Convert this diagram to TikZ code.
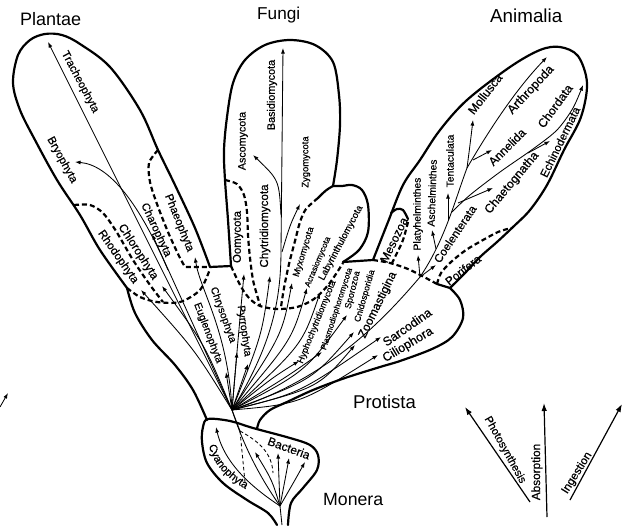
\documentclass[tikz,border=0pt]{standalone}
\usepackage{fontspec}
\setmainfont{Liberation Sans}
\newfontfamily\medfont{Liberation Sans}[FakeBold=0.5]
\usetikzlibrary{arrows.meta,decorations.text}
\newcommand\plab[5]{\node[inner sep=0pt,rotate=#3,font=\medfont\fontsize{#4}{#4}\selectfont] (#1) at (#2) {#5};}
\newcommand\klab[4]{\node[anchor=base west,inner sep=0pt,font=\fontsize{#3}{#3}\selectfont] (#1) at (#2) {#4};}
\begin{document}
\begin{tikzpicture}[x=1pt,y=-1pt,
  outl/.style={line width=2.2pt,line join=round,line cap=round},
  dsh/.style={line width=2.2pt,dash pattern=on 5pt off 3pt},
  thn/.style={line width=0.85pt},
  arr/.style={thn,-{Latex[length=5.6pt,width=4pt]}},
  bigarr/.style={line width=1.2pt,-{Latex[length=8pt,width=5.5pt]}},
  tdsh/.style={line width=0.85pt,dash pattern=on 3.5pt off 2.5pt}]
\useasboundingbox (0,0) rectangle (624,525);
\coordinate (C0) at (232,410);
\coordinate (RA) at (420,277);
\coordinate (M0) at (280,506);
% ---------- outlines ----------
\draw[outl] plot[smooth,tension=0.55] coordinates {(277,525) (268,513) (247,500) (223,483) (207,463) (202,442) (203,427) (208,419) (230,421) (253,428) (290,438) (310,445) (318,455) (317,470) (303,488) (291,503) (288,525)};
\draw[outl] plot[smooth,tension=0.55] coordinates {(207,420) (193,390) (175,365) (152,340) (135,313) (127,288)};
\draw[outl] plot[smooth,tension=0.55] coordinates {(127,288) (100,250) (80,215) (57,180) (35,140) (20,110) (13,83) (18,55) (30,40) (45,34) (62,35) (80,44) (110,67) (140,110) (158,150) (175,185) (195,228) (210,267)};
\draw[outl] (210,267) -- (231,266);
\draw[outl] plot[smooth,tension=0.55] coordinates {(231,266) (228,220) (225,180) (224,150) (227,117) (233,83) (245,60) (265,45) (290,40) (315,45) (333,62) (339,95) (340,125) (337,160) (333,186)};
\draw[outl] plot[smooth,tension=0.55] coordinates {(333,186) (342,186) (352,185) (362,190) (368,205) (368,232) (359,250) (343,262)};
\draw[outl] (343,262) -- (373,260);
\draw[outl] plot[smooth,tension=0.55] coordinates {(373,260) (388,222) (403,185) (420,160) (440,130) (467,100) (510,67) (540,50) (560,47) (578,56) (587,83) (581,117) (564,150) (547,185) (530,210) (513,227) (497,242) (480,257) (465,273) (450,288)};
\draw[outl] plot[smooth,tension=0.55] coordinates {(450,288) (460,300) (463,318) (452,337) (432,349) (400,361) (380,367) (345,378) (313,390) (287,402) (270,410) (260,420) (257,429)};
% ---------- dashed boundaries ----------
\draw[dsh] plot[smooth] coordinates {(127,288) (140,297) (157,302) (180,302) (200,290) (210,269)};
\draw[dsh] plot[smooth] coordinates {(74,205) (90,205) (103,213) (116,231) (133,260) (150,285) (163,302)};
\draw[dsh] plot[smooth] coordinates {(158,150) (149,163) (150,182) (157,204) (168,232) (179,256) (185,267)} -- (210,267);
\draw[dsh] plot[smooth] coordinates {(225,180) (237,184) (244,195) (247,212) (248,235) (250,258) (253,280) (257,295) (260,305)};
\draw[dsh] plot[smooth] coordinates {(231,266) (237,279) (243,290) (250,299) (260,306) (277,309) (297,307) (314,299) (329,284) (343,263)};
\draw[outl] (333,186) .. controls (326,190) .. (318,198);
\draw[dsh] plot[smooth] coordinates {(318,198) (306,209) (300,222) (295,241) (289,264) (284,288) (281,307)};
\draw[dsh] plot[smooth] coordinates {(373,260) (390,263) (408,269) (424,277) (437,284)};
\draw[outl] (437,284) -- (450,288);
\draw[dsh] plot[smooth] coordinates {(437,284) (441,273) (451,262) (466,250) (483,240) (498,232) (511,228)};
\draw[outl] plot[smooth] coordinates {(391,213) (397,209) (403,210) (408,219)};
\draw[dsh] plot[smooth] coordinates {(408,222) (403,240) (396,255) (392,263)};
% ---------- Plantae lines ----------
\draw[arr] (C0) -- (48,42);
\draw[arr] (168,270) .. controls (140,205) and (110,165) .. (75,162);
\draw[arr] (C0) -- (152,234);
\draw[arr] (C0) .. controls (228,330) and (200,290) .. (195,257);
\draw[arr] (C0) .. controls (205,345) .. (162,286);
\draw[arr] (C0) .. controls (195,350) .. (141,290);
% ---------- Fungi lines ----------
\draw[arr] (C0) .. controls (238,340) .. (244,274);
\draw[arr] (C0) .. controls (262,335) .. (270,276);
\draw[arr] (C0) .. controls (272,345) and (281,300) .. (281,250) -- (283,48);
\draw[arr] (281,215) .. controls (279,180) .. (253,155);
\draw[arr] (282,252) .. controls (290,225) .. (300,204);
\draw[arr] (C0) .. controls (282,335) .. (292,283);
\draw[arr] (C0) .. controls (292,340) .. (307,288);
\draw[arr] (C0) .. controls (302,345) .. (320,293);
% ---------- Protista lines ----------
\draw[arr] (C0) -- (226,372);
\draw[arr] (C0) -- (237,352);
\draw[arr] (C0) -- (248,364);
\draw[arr] (C0) .. controls (272,378) .. (299,361);
\draw[arr] (C0) .. controls (285,378) .. (322,352);
\draw[arr] (C0) .. controls (305,372) .. (347,315);
\draw[arr] (C0) .. controls (312,380) .. (354,332);
\draw[arr] (C0) .. controls (318,388) .. (355,345);
\draw[thn] (C0) .. controls (330,378) and (385,318) .. (RA);
\draw[arr] (C0) .. controls (300,393) .. (381,337);
\draw[arr] (C0) .. controls (300,404) .. (378,355);
% ---------- Animalia lines ----------
\draw[thn] (RA) .. controls (445,240) and (455,200) .. (467,168);
\draw[arr] (467,168) .. controls (470,145) .. (473,120);
\draw[arr] (467,168) .. controls (495,120) and (520,85) .. (547,57);
\draw[arr] (473,160) -- (492,150);
\draw[arr] plot[smooth] coordinates {(452,212) (470,195) (500,172) (533,149) (557,130) (573,108) (583,85)};
\draw[arr] (528,153) -- (550,141);
\draw[arr] (458,203) -- (493,188);
\draw[arr] (448,221) -- (448,193);
\draw[arr] (436,249) -- (432,230);
\draw[arr] (RA) -- (418,255);
\draw[arr] (RA) -- (436,265);
% ---------- Monera lines ----------
\draw[thn] (M0) -- (282,525);
\draw[arr] (M0) .. controls (256,490) and (225,466) .. (216,427);
\draw[arr] (M0) .. controls (272,480) .. (255,452);
\draw[arr] (M0) -- (278,453);
\draw[arr] (M0) .. controls (285,480) .. (289,458);
\draw[arr] (M0) .. controls (295,480) .. (305,462);
\draw[thn] (C0) .. controls (245,450) and (262,480) .. (M0);
\draw[thn] (C0) -- (240,431);
\draw[tdsh] (240,431) -- (245,482);
\draw[tdsh] (240,431) .. controls (262,443) and (272,455) .. (273,473);
% ---------- side arrows ----------
\coordinate (edgeA) at (0,407);
\draw[arr] (edgeA) -- (8,393);
\coordinate (phA) at (530,502); \coordinate (phB) at (465,407);
\coordinate (abA) at (547,517); \coordinate (abB) at (544,403);
\coordinate (inA) at (570,500); \coordinate (inB) at (622,404);
\draw[bigarr] (phA) -- (phB);
\draw[bigarr] (abA) -- (abB);
\draw[bigarr] (inA) -- (inB);
% ---------- labels ----------
\klab{plantae}{20,25}{18}{Plantae}
\klab{fungi}{257,19}{17.2}{Fungi}
\klab{animalia}{490,22}{18.8}{Animalia}
\klab{protista}{353,408}{18.5}{Protista}
\klab{monera}{323,505}{17.7}{Monera}
\plab{trach}{80,82}{-62}{11.2}{Tracheophyta}
\plab{bryo}{62,160}{-61}{11.3}{Bryophyta}
\plab{phaeo}{179,223}{-68}{11.4}{Phaeophyta}
\plab{charo}{156,230}{-65}{11.2}{Charophyta}
\plab{chloro}{138,252}{-57}{11.8}{Chlorophyta}
\plab{rhodo}{118,257}{-55}{11.5}{Rhodophyta}
\plab{basid}{272,95}{90}{10.8}{Basidiomycota}
\plab{asco}{243,141}{90}{10.7}{Ascomycota}
\plab{zygo}{306,162}{90}{9.4}{Zygomycota}
\plab{chytr}{265,226}{90}{11.6}{Chytridiomycota}
\plab{oomy}{238,237}{90}{11.4}{Oomycota}
\plab{myxo}{304,252}{73}{9.2}{Myxomycota}
\plab{acras}{318,262}{67}{8.2}{Acrasiomycota}
\plab{laby}{341,243}{62}{9.6}{Labyrinthulomycota}
\plab{eugl}{208,333}{-69}{10.4}{Euglenophyta}
\plab{chrys}{223,315}{-70}{10.4}{Chrysophyta}
\plab{pyrr}{244,331}{-82}{10.6}{Pyrrophyta}
\plab{hypho}{317,322}{68}{9}{Hyphochytridiomycota}
\plab{plasm}{337,309}{72}{8.2}{Plasmodiophoromycota}
\plab{sporo}{353,290}{76}{9}{Sporozoa}
\plab{cnido}{365,296}{74}{8.8}{Cnidosporidia}
\plab{zoom}{378,305}{64}{12}{Zoomastigina}
\plab{sarc}{407,327}{35}{12.5}{Sarcodina}
\plab{cilio}{408,345}{31}{12.5}{Ciliophora}
\plab{meso}{394,240}{64}{12}{Mesozoa}
\plab{platy}{418,214}{90}{10.3}{Platyhelminthes}
\plab{asch}{432,193}{88}{10.3}{Aschelminthes}
\plab{tent}{450,161}{90}{10.3}{Tentaculata}
\plab{coel}{455,234}{56}{11.6}{Coelenterata}
\plab{pori}{463,270}{38}{11.8}{Porifera}
\plab{moll}{485,94}{52}{12}{Mollusca}
\plab{arth}{531,90}{47}{12.4}{Arthropoda}
\plab{anne}{507,147}{45}{12}{Annelida}
\plab{chaet}{512,183}{50}{12.2}{Chaetognatha}
\plab{chord}{555,106}{54}{12.2}{Chordata}
\plab{echin}{560,142}{64}{11.4}{Echinodermata}
\plab{photo}{505,450}{-61}{11}{Photosynthesis}
\plab{absor}{537,472}{90}{11.8}{Absorption}
\plab{inges}{577,473}{58}{11.5}{Ingestion}
\plab{bact}{289,448}{-20}{12}{Bacteria}
\path[decorate,decoration={text along path,text align=center,
  text={|\medfont\fontsize{11}{11}\selectfont|Cyanophyta}}]
  (208,437) .. controls (209,461) and (225,479) .. (253,493);
\end{tikzpicture}
\end{document}
